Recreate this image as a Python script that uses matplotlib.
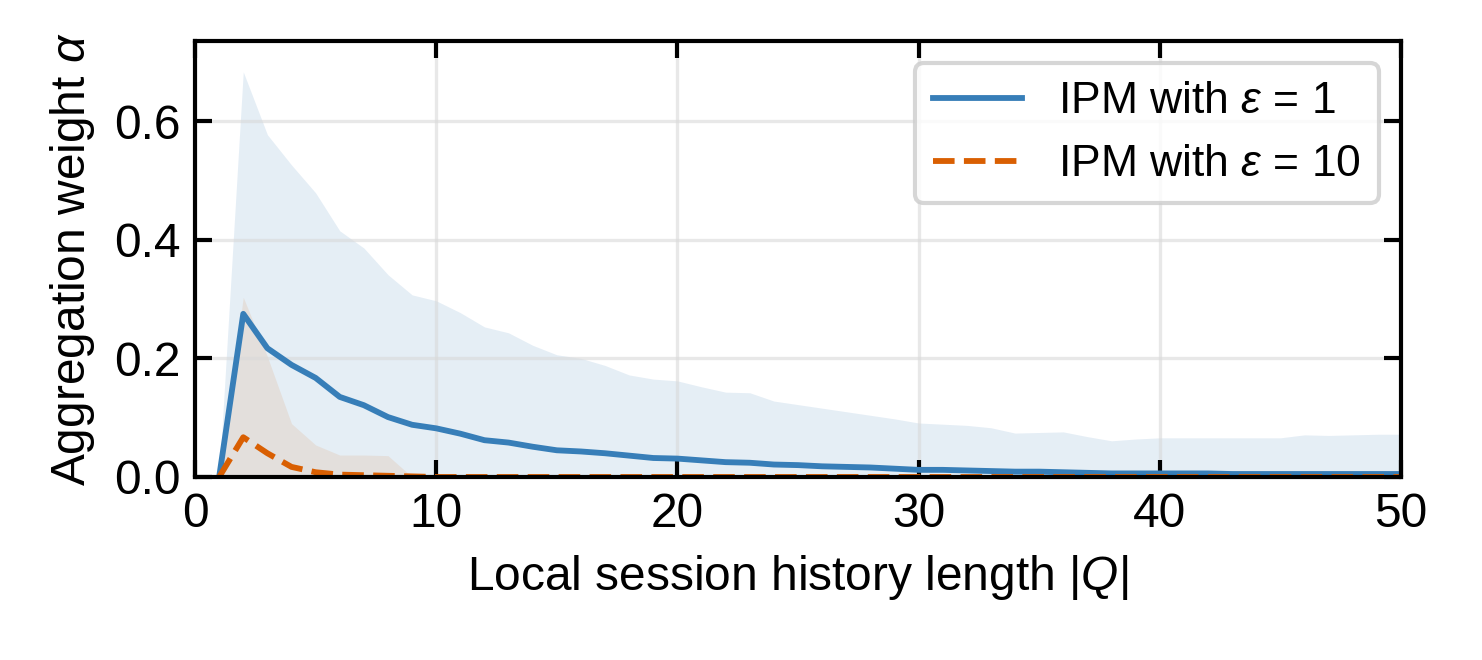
import numpy as np
import matplotlib
matplotlib.use('Agg')
import matplotlib.pyplot as plt

plt.rcParams['font.family'] = ['Liberation Sans', 'DejaVu Sans']
plt.rcParams['mathtext.fontset'] = 'custom'
plt.rcParams['mathtext.rm'] = 'Liberation Sans'
plt.rcParams['mathtext.it'] = 'Liberation Sans:italic'
plt.rcParams['font.size'] = 11.5

q_len = np.arange(1, 51)

mean_eps1 = [0.0, 0.275, 0.217, 0.189, 0.167, 0.135, 0.121, 0.101, 0.088, 0.082,
             0.073, 0.062, 0.058, 0.051, 0.045, 0.043, 0.040, 0.036, 0.032, 0.031,
             0.028, 0.025, 0.024, 0.021, 0.020, 0.018, 0.017, 0.016, 0.014, 0.012,
             0.012, 0.011, 0.010, 0.009, 0.009, 0.008, 0.007, 0.006, 0.006, 0.006,
             0.006, 0.006, 0.005, 0.005, 0.005, 0.005, 0.005, 0.005, 0.005, 0.005]
upper_eps1 = [0.0, 0.683, 0.577, 0.526, 0.479, 0.415, 0.386, 0.341, 0.307, 0.297,
              0.277, 0.253, 0.243, 0.222, 0.206, 0.200, 0.188, 0.172, 0.165, 0.162,
              0.152, 0.143, 0.142, 0.128, 0.122, 0.116, 0.110, 0.104, 0.098, 0.091,
              0.089, 0.087, 0.083, 0.074, 0.075, 0.076, 0.068, 0.061, 0.064, 0.066,
              0.066, 0.066, 0.066, 0.066, 0.066, 0.071, 0.070, 0.071, 0.072, 0.072]
lower_eps1 = [0.0] * 50

mean_eps10 = [0.0, 0.067, 0.040, 0.017, 0.008, 0.004, 0.003, 0.002, 0.001, 0.0] + [0.0] * 40
upper_eps10 = [0.0, 0.303, 0.203, 0.090, 0.054, 0.037, 0.037, 0.036, 0.0, 0.0] + [0.0] * 40
lower_eps10 = [0.0] * 50

blue = '#377eb8'
orange = '#d95f02'

fig = plt.figure(figsize=(4.94, 2.2), dpi=300)
ax = fig.add_axes([0.1316, 0.2773, 0.8137, 0.6606])

ax.fill_between(q_len, lower_eps1, upper_eps1, color=blue, alpha=0.13, linewidth=0)
ax.fill_between(q_len, lower_eps10, upper_eps10, color=orange, alpha=0.1, linewidth=0)
ax.plot(q_len, mean_eps1, color=blue, lw=1.4, label=r'IPM with $\varepsilon$ = 1')
ax.plot(q_len, mean_eps10, color=orange, lw=1.4, ls='--', label=r'IPM with $\varepsilon$ = 10')

ax.set_xlim(0, 50)
ax.set_ylim(0, 0.735)
ax.set_xticks([0, 10, 20, 30, 40, 50])
ax.set_yticks([0.0, 0.2, 0.4, 0.6])
ax.tick_params(direction='in', top=True, right=True, length=4, width=1.0)
ax.grid(True, color='#d9d9d9', alpha=0.6, lw=0.8)
for s in ax.spines.values():
    s.set_linewidth(1.0)

ax.set_xlabel(r'Local session history length $|Q|$')
ax.set_ylabel(r'Aggregation weight $\alpha$')
ax.legend(loc='upper right', fontsize=10.7, frameon=True, fancybox=True,
          framealpha=0.8, edgecolor='#cccccc')

fig.savefig('out.png', dpi=300)
